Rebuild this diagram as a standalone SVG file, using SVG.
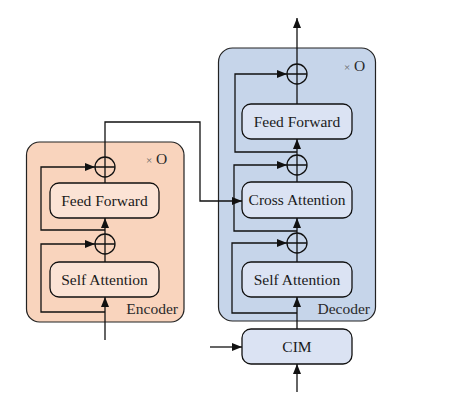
<svg xmlns="http://www.w3.org/2000/svg" width="462" height="403" viewBox="0 0 462 403">
<style>
.enc{fill:#f9d4bd;stroke:#222;stroke-width:1.2}
.dec{fill:#c6d5ea;stroke:#222;stroke-width:1.2}
.ebox{fill:#fbe3d5;stroke:#111;stroke-width:1.3}
.dbox{fill:#dbe3f3;stroke:#111;stroke-width:1.3}
.lbl{font-family:"Liberation Serif","Times New Roman",serif;font-size:15.5px;fill:#1a1a1a;text-anchor:middle}
.sm{font-family:"Liberation Serif","Times New Roman",serif;font-size:15.5px;fill:#2a2a2a}
.x{font-size:11px;fill:#666}
.ln{fill:none;stroke:#111;stroke-width:1.3}
.add{fill:none;stroke:#111;stroke-width:1.3}
</style>
<defs>
<marker id="ar" viewBox="0 0 10 8" refX="10" refY="4" markerWidth="10" markerHeight="8" markerUnits="userSpaceOnUse" orient="auto">
<path d="M0,0 L10,4 L0,8 Z" fill="#111"/>
</marker>
<g id="plus"><circle r="10" class="add" cx="0" cy="0"/><path d="M-10,0H10M0,-10V10" class="add"/></g>
</defs>
<rect width="462" height="403" fill="#fff"/>
<g id="encoder">
<rect class="enc" x="26.5" y="142" width="157.5" height="180" rx="13"/>
<text class="sm" x="146" y="164"><tspan class="x">×</tspan> O</text>
<text class="sm" x="178" y="314" text-anchor="end">Encoder</text>
</g>
<g id="decoder">
<rect class="dec" x="218.5" y="48" width="157" height="273" rx="14"/>
<text class="sm" x="344" y="71"><tspan class="x">×</tspan> O</text>
<text class="sm" x="370" y="314" text-anchor="end">Decoder</text>
</g>
<g id="enc-ff"><rect class="ebox" x="50" y="183" width="109" height="35" rx="9"/><text class="lbl" x="104.5" y="205.5">Feed Forward</text></g>
<g id="enc-sa"><rect class="ebox" x="50" y="262" width="109" height="35" rx="9"/><text class="lbl" x="104.5" y="284.5">Self Attention</text></g>
<g id="dec-ff"><rect class="dbox" x="242" y="104" width="110" height="35" rx="9"/><text class="lbl" x="297" y="126.5">Feed Forward</text></g>
<g id="dec-ca"><rect class="dbox" x="242" y="182" width="110" height="36" rx="9"/><text class="lbl" x="297" y="205">Cross Attention</text></g>
<g id="dec-sa"><rect class="dbox" x="242" y="262" width="110" height="35" rx="9"/><text class="lbl" x="297" y="284.5">Self Attention</text></g>
<g id="cim"><rect class="dbox" x="242" y="329" width="110" height="35" rx="9"/><text class="lbl" x="297" y="351.5">CIM</text></g>
<g id="enc-add1"><use href="#plus" x="105" y="244"/></g>
<g id="enc-add2"><use href="#plus" x="105" y="167"/></g>
<g id="dec-add1"><use href="#plus" x="297" y="243"/></g>
<g id="dec-add2"><use href="#plus" x="297" y="165"/></g>
<g id="dec-add3"><use href="#plus" x="297" y="74"/></g>
<g id="connectors">
<path class="ln" d="M105,340V297" marker-end="url(#ar)"/>
<path class="ln" d="M105,262V254"/>
<path class="ln" d="M105,234V218" marker-end="url(#ar)"/>
<path class="ln" d="M105,183V177"/>
<path class="ln" d="M105,312H41V244H95" marker-end="url(#ar)"/>
<path class="ln" d="M105,230H41V167H95" marker-end="url(#ar)"/>
<path class="ln" d="M105,157V122H200V201H242" marker-end="url(#ar)"/>
<path class="ln" d="M297,392V364" marker-end="url(#ar)"/>
<path class="ln" d="M210,347H242" marker-end="url(#ar)"/>
<path class="ln" d="M297,329V297" marker-end="url(#ar)"/>
<path class="ln" d="M297,262V253"/>
<path class="ln" d="M297,313H232V243H287" marker-end="url(#ar)"/>
<path class="ln" d="M297,233V218" marker-end="url(#ar)"/>
<path class="ln" d="M297,231H234V165H287" marker-end="url(#ar)"/>
<path class="ln" d="M297,182V175"/>
<path class="ln" d="M297,155V139" marker-end="url(#ar)"/>
<path class="ln" d="M297,152H235V74H287" marker-end="url(#ar)"/>
<path class="ln" d="M297,104V84"/>
<path class="ln" d="M297,64V18" marker-end="url(#ar)"/>
</g>
</svg>
